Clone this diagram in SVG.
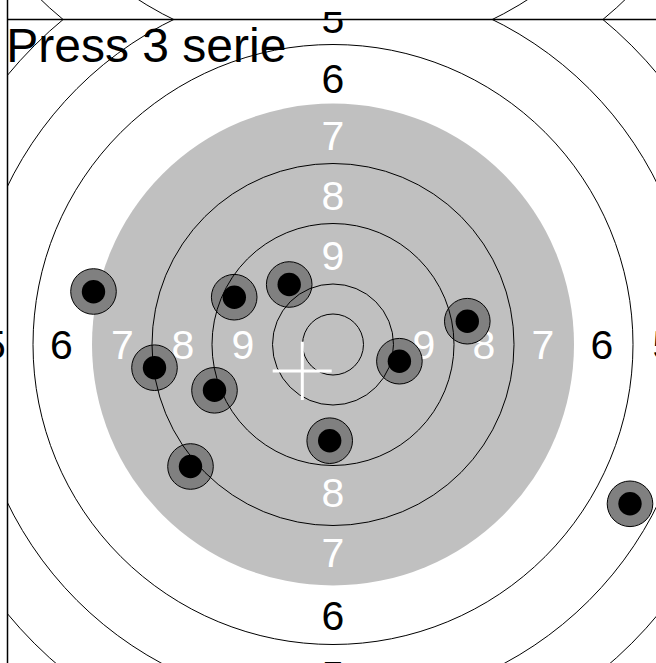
<svg xmlns="http://www.w3.org/2000/svg" width="656" height="663" viewBox="0 0 656 663">
<style>
.ring{fill:none;stroke:#000;stroke-width:1}
.lw{font-family:"Liberation Sans",Arial,sans-serif;font-size:41px;fill:#fff;text-anchor:middle}
.lb{font-family:"Liberation Sans",Arial,sans-serif;font-size:41px;fill:#000;text-anchor:middle}
.ho{fill:#808080;stroke:#000;stroke-width:1}
.hi{fill:#000}
.border{stroke:#000;stroke-width:1.5;fill:none}
</style>
<defs>
<clipPath id="clipLower"><rect x="7.5" y="19.5" width="700" height="700"/></clipPath>
<clipPath id="clipUpper"><rect x="7.5" y="-700" width="700" height="719.5"/></clipPath>
<clipPath id="clipLeft"><rect x="-50" y="0" width="57.5" height="700"/></clipPath>
<g id="rings">
<circle class="ring" cx="0" cy="0" r="30.5"/>
<circle class="ring" cx="0" cy="0" r="60.5"/>
<circle class="ring" cx="0" cy="0" r="121"/>
<circle class="ring" cx="0" cy="0" r="181"/>
<circle class="ring" cx="0" cy="0" r="300"/>
<circle class="ring" cx="0" cy="0" r="362"/>
<circle class="ring" cx="0" cy="0" r="422.5"/>
<circle class="ring" cx="0" cy="0" r="482"/>
</g>
</defs>
<g id="upper-target" clip-path="url(#clipUpper)">
<g transform="translate(333,-305.5)">
<circle cx="0" cy="0" r="241" fill="#c0c0c0"/>
<text class="lb" x="0" y="345">5</text>
<use href="#rings"/>
</g>
</g>
<g id="left-fragment" clip-path="url(#clipLeft)">
<text class="lb" x="-5.5" y="358.5">5</text>
</g>
<g id="lower-target" clip-path="url(#clipLower)">
<g transform="translate(333,344.5)">
<circle id="black-area" cx="0" cy="0" r="241" fill="#c0c0c0"/>
<g id="labels">
<text class="lw" x="0" y="-75">9</text>
<text class="lw" x="0" y="-135">8</text>
<text class="lw" x="0" y="-195">7</text>
<text class="lb" x="0" y="-252">6</text>
<text class="lb" x="0" y="-312">5</text>
<text class="lw" x="0" y="105">9</text>
<text class="lw" x="0" y="162">8</text>
<text class="lw" x="0" y="222">7</text>
<text class="lb" x="0" y="285">6</text>
<text class="lb" x="0" y="345">5</text>
<text class="lb" x="-271.5" y="14">6</text>
<text class="lw" x="-210.5" y="14">7</text>
<text class="lw" x="-150" y="14">8</text>
<text class="lw" x="-90" y="14">9</text>
<text class="lw" x="91" y="14">9</text>
<text class="lw" x="151" y="14">8</text>
<text class="lw" x="210" y="14">7</text>
<text class="lb" x="269" y="14">6</text>
<text class="lb" x="331" y="14">5</text>
</g>
</g>
<g id="holes">
<g id="hole1"><circle class="ho" cx="93.5" cy="291.5" r="22.8"/><circle class="hi" cx="93.5" cy="291.8" r="11.7"/></g>
<g id="hole2"><circle class="ho" cx="234.2" cy="297.2" r="22.8"/><circle class="hi" cx="234.3" cy="297.2" r="11.7"/></g>
<g id="hole3"><circle class="ho" cx="289.2" cy="284.5" r="22.8"/><circle class="hi" cx="289.2" cy="284.5" r="11.7"/></g>
<g id="hole4"><circle class="ho" cx="467.3" cy="321.2" r="22.8"/><circle class="hi" cx="467.3" cy="321.2" r="11.7"/></g>
<g id="hole5"><circle class="ho" cx="154.5" cy="367.7" r="22.8"/><circle class="hi" cx="154.5" cy="367.7" r="11.7"/></g>
<g id="hole6"><circle class="ho" cx="214.5" cy="390.3" r="22.8"/><circle class="hi" cx="214.5" cy="390.3" r="11.7"/></g>
<g id="hole7"><circle class="ho" cx="399.4" cy="361.2" r="22.8"/><circle class="hi" cx="399.4" cy="361.2" r="11.7"/></g>
<g id="hole8"><circle class="ho" cx="329.7" cy="440.7" r="22.8"/><circle class="hi" cx="329.7" cy="440.7" r="11.7"/></g>
<g id="hole9"><circle class="ho" cx="190.5" cy="466.5" r="22.8"/><circle class="hi" cx="190.5" cy="466.5" r="11.7"/></g>
<g id="hole10"><circle class="ho" cx="630" cy="503.8" r="22.8"/><circle class="hi" cx="630" cy="503.8" r="11.7"/></g>
</g>
<g transform="translate(333,344.5)"><use href="#rings"/></g>
<g id="mean-cross" stroke="#fff" stroke-width="3">
<line x1="272.7" y1="371" x2="331.7" y2="371"/>
<line x1="302.3" y1="341.7" x2="302.3" y2="400"/>
</g>
</g>
<g id="connectors">
<line class="border" x1="7.5" y1="19.5" x2="656" y2="19.5"/>
<line class="border" x1="7.5" y1="0" x2="7.5" y2="663"/>
</g>
<text x="6.3" y="62" font-family="Liberation Sans, Arial, sans-serif" font-size="48" fill="#000">Press 3 serie</text>
</svg>
